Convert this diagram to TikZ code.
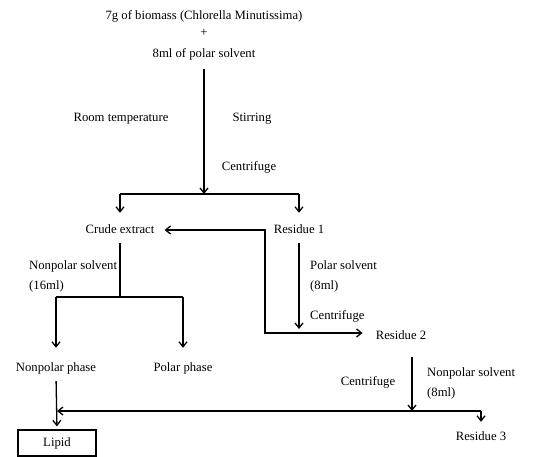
\documentclass[tikz,border=0pt]{standalone}
\usepackage{fontspec}
\setmainfont{Liberation Serif}
\usetikzlibrary{arrows.meta}
\begin{document}
\begin{tikzpicture}[x=1pt,y=-1pt,
  lbl/.style={inner sep=2pt,text height=9pt,text depth=3pt,font=\fontsize{12.7}{15}\selectfont},
  lineg/.style={line width=1.3pt},
  arr/.style={lineg,-{Straight Barb[length=5pt,width=8pt]}},
  arrboth/.style={lineg,{Straight Barb[length=5pt,width=8pt]}-{Straight Barb[length=5pt,width=8pt]}},
  box/.style={lbl,draw,line width=1.3pt,minimum width=78pt,minimum height=26pt}
]
\useasboundingbox (0,0) rectangle (556,457);
% nodes
\node[lbl] (t1) at (204,17) {7g of biomass (Chlorella Minutissima)};
\node[lbl] (plus) at (204,34) {+};
\node[lbl] (t2) at (204,55) {8ml of polar solvent};
\node[lbl] (rt) at (121,119) {Room temperature};
\node[lbl] (st) at (252,119) {Stirring};
\node[lbl] (c1) at (249,168) {Centrifuge};
\node[lbl] (crude) at (120,230) {Crude extract};
\node[lbl] (r1) at (299,230) {Residue 1};
\node[lbl,anchor=west] (nps1) at (27,266) {Nonpolar solvent};
\node[lbl,anchor=west] (nps1b) at (27,286) {(16ml)};
\node[lbl,anchor=west] (ps) at (308,266) {Polar solvent};
\node[lbl,anchor=west] (psb) at (308,286) {(8ml)};
\node[lbl,anchor=west] (c2) at (308,316) {Centrifuge};
\node[lbl] (r2) at (401,336) {Residue 2};
\node[lbl] (np) at (56,368) {Nonpolar phase};
\node[lbl] (pp) at (183,368) {Polar phase};
\node[lbl] (c3) at (368,382) {Centrifuge};
\node[lbl,anchor=west] (nps2) at (425,373) {Nonpolar solvent};
\node[lbl,anchor=west] (nps2b) at (425,393) {(8ml)};
\node[lbl] (r3) at (481,437) {Residue 3};
\node[box] (lipid) at (57,443) {Lipid};
% coordinates
\coordinate (j1) at (204,194);
\coordinate (j2) at (120,297);
\coordinate (k1) at (265,230);
\coordinate (k2) at (265,333);
\coordinate (r1end) at (299,329);
\coordinate (j3) at (412,411);
% connectors
\draw[arr,shorten <=6pt] (t2.south) -- (j1);
\draw[lineg] (crude.north |- j1) -- (r1.north |- j1);
\draw[arr,shorten >=9pt] (crude.north |- j1) -- (crude.north);
\draw[arr,shorten >=9pt] (r1.north |- j1) -- (r1.north);
\draw[arrboth,shorten <=8pt,shorten >=11pt] (crude.east) -- (k1) -- (k2) -- (r2.west |- k2);
\draw[arr,shorten <=5pt] (r1.south) -- (r1end);
\draw[lineg,shorten <=5pt] (crude.south) -- (j2);
\draw[lineg] (np.north |- j2) -- (pp.north |- j2);
\draw[arr,shorten >=12pt] (np.north |- j2) -- (np.north);
\draw[arr,shorten >=12pt] (pp.north |- j2) -- (pp.north);
\draw[arr,shorten <=5pt,shorten >=3pt] (np.south) -- (lipid.north);
\draw[arr,shorten <=13pt] (r2.south -| j3) -- (j3);
\draw[arr,shorten >=1pt] (r3.north |- j3) -- (np.south |- j3);
\draw[arr,shorten >=7pt] (r3.north |- j3) -- (r3.north);
\end{tikzpicture}
\end{document}
